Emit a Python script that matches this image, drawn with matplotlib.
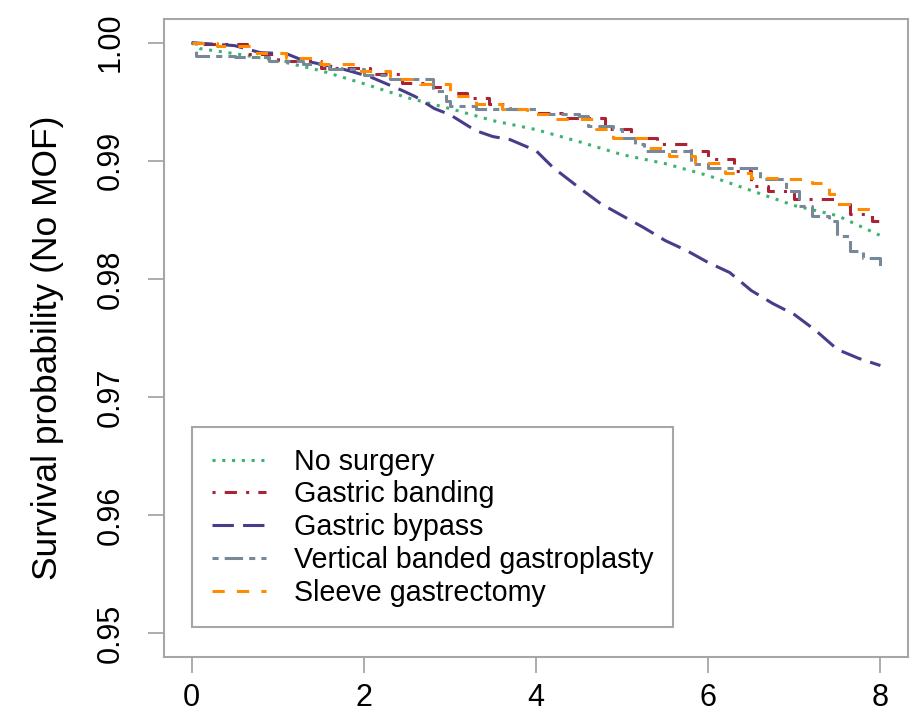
import numpy as np
import matplotlib
matplotlib.use('Agg')
import matplotlib.pyplot as plt

plt.rcParams['font.family'] = ['Liberation Sans', 'DejaVu Sans']

# survival curves (time in years, survival probability)
t_none = [0, 0.1, 0.5, 1, 1.5, 2, 2.5, 3, 3.5, 4, 4.5, 5, 5.5, 6, 6.5, 7, 7.5, 8]
s_none = [1.0, 0.99949, 0.99907, 0.99848, 0.99763, 0.99653, 0.99535, 0.99442, 0.99340,
          0.99264, 0.99162, 0.99052, 0.98976, 0.98875, 0.98748, 0.98621, 0.98536, 0.98367]

t_band = [0, 0.1, 0.64, 1.0, 1.5, 2.07, 2.45, 2.8, 3.0, 3.2, 3.45, 3.7, 4.0, 4.3, 4.8, 5.1,
          5.4, 5.8, 6.0, 6.3, 6.5, 6.7, 7.0, 7.5, 7.65, 7.9, 8.0]
s_band = [1.0, 0.99992, 0.99907, 0.99848, 0.99788, 0.99738, 0.99662, 0.99628, 0.99577, 0.99535,
          0.99484, 0.99442, 0.99408, 0.99365, 0.99272, 0.99196, 0.99146, 0.99086, 0.99019, 0.98917,
          0.98790, 0.98748, 0.98680, 0.98638, 0.98553, 0.98494, 0.98486]

t_bypass = [0, 0.5, 0.8, 1.1, 1.3, 1.7, 2.07, 2.45, 2.6, 2.82, 3.0, 3.3, 3.5, 3.7, 4.0, 4.2, 4.5,
            4.75, 5.0, 5.25, 5.5, 5.75, 6.0, 6.25, 6.5, 6.75, 7.0, 7.25, 7.5, 7.75, 8.0]
s_bypass = [1.0, 0.99975, 0.99915, 0.99907, 0.99848, 0.99788, 0.99712, 0.99594, 0.99543, 0.99442,
            0.99391, 0.99255, 0.99205, 0.99179, 0.99086, 0.98942, 0.98773, 0.98638, 0.98536, 0.98435,
            0.98325, 0.98240, 0.98139, 0.98054, 0.97902, 0.97792, 0.97699, 0.97563, 0.97403, 0.97327,
            0.97267]

t_vbg = [0, 0.05, 0.5, 0.9, 1.3, 1.6, 2.0, 2.3, 2.8, 2.95, 3.0, 3.3, 4.0, 4.5, 4.6, 4.9, 5.0,
         5.15, 5.25, 5.8, 6.0, 6.6, 6.9, 7.05, 7.2, 7.4, 7.5, 7.65, 7.8, 8.0]
s_vbg = [1.0, 0.99890, 0.99882, 0.99848, 0.99822, 0.99780, 0.99729, 0.99695, 0.99594, 0.99509,
         0.99467, 0.99442, 0.99399, 0.99382, 0.99298, 0.99272, 0.99196, 0.99146, 0.99086, 0.98976,
         0.98942, 0.98849, 0.98748, 0.98621, 0.98536, 0.98494, 0.98367, 0.98240, 0.98181, 0.98113]

t_sleeve = [0, 0.3, 0.7, 1.1, 1.5, 1.9, 2.3, 2.65, 3.0, 3.3, 3.6, 3.9, 4.2, 4.7, 4.9, 5.3, 5.55,
            5.85, 6.2, 6.5, 6.8, 7.2, 7.4, 7.5, 7.65, 8.0]
s_sleeve = [1.0, 0.99975, 0.99915, 0.99873, 0.99822, 0.99763, 0.99695, 0.99653, 0.99552, 0.99484,
            0.99442, 0.99399, 0.99357, 0.99272, 0.99196, 0.99112, 0.99044, 0.98985, 0.98900, 0.98858,
            0.98850, 0.98816, 0.98723, 0.98638, 0.98596, 0.98596]

labels = ['No surgery', 'Gastric banding', 'Gastric bypass',
          'Vertical banded gastroplasty', 'Sleeve gastrectomy']

x_ticks = [0, 2, 4, 6, 8]
y_ticks = [0.95, 0.96, 0.97, 0.98, 0.99, 1.00]

axis_grey = '#a6a6a6'
lw = 2.2

fig = plt.figure(figsize=(9.14, 7.23), dpi=100)
ax = fig.add_axes([0.1794, 0.0913, 0.8140, 0.8824])

ax.plot(t_none, s_none, color='#3cb371', lw=lw, linestyle=(0, (1, 2.2)), label=labels[0])
ax.plot(t_band, s_band, color='#aa2233', lw=lw, linestyle=(0, (1, 3, 4, 3)),
        drawstyle='steps-post', label=labels[1])
ax.plot(t_bypass, s_bypass, color='#483d8b', lw=lw, linestyle=(0, (7, 3)), label=labels[2])
ax.plot(t_vbg, s_vbg, color='#778899', lw=lw, linestyle=(0, (2, 2, 6, 2)),
        drawstyle='steps-post', label=labels[3])
ax.plot(t_sleeve, s_sleeve, color='#ff8c00', lw=lw, linestyle=(0, (4, 4)),
        drawstyle='steps-post', label=labels[4])

ax.set_xlim(-0.32, 8.32)
ax.set_ylim(0.948, 1.002)
ax.set_xticks(x_ticks)
ax.set_xticklabels([str(v) for v in x_ticks])
ax.set_yticks(y_ticks)
ax.set_yticklabels(['%.2f' % v for v in y_ticks])

for sp in ax.spines.values():
    sp.set_color(axis_grey)
    sp.set_linewidth(1.5)

ax.tick_params(direction='out', length=11.5, width=1.3, color=axis_grey, labelsize=22)
ax.tick_params(axis='x', pad=7)
ax.tick_params(axis='y', pad=16, labelrotation=90)
for lab in ax.get_yticklabels():
    lab.set_va('center')

fig.text(48 / 914, 1 - 348 / 723, 'Survival probability (No MOF)', rotation=90,
         ha='center', va='center', fontsize=25.5)

leg = ax.legend(loc='lower left', bbox_to_anchor=(0.0376, 0.047), borderaxespad=0,
                fontsize=20.6, handlelength=1.9, handletextpad=0.95, borderpad=0.7,
                labelspacing=0.17, fancybox=False, framealpha=1)
leg.get_frame().set_edgecolor(axis_grey)
leg.get_frame().set_linewidth(1.5)

fig.savefig('out.png', dpi=100)
